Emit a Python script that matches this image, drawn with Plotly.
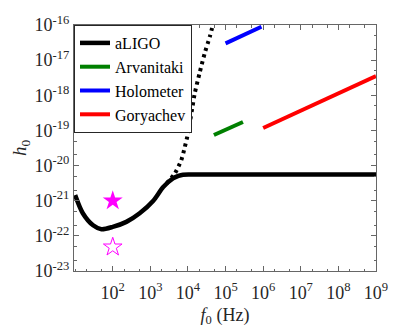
import plotly.graph_objects as go

# --- data ---
aligo_f = [10, 16, 30, 50, 100, 230, 520, 1200, 2200, 4000, 5600, 7400, 11000, 20000, 1e9]
aligo_h = [1.45e-21, 4.4e-22, 2.0e-22, 1.55e-22, 1.8e-22, 2.5e-22, 4.4e-22, 1.0e-21,
           2.45e-21, 4.3e-21, 5.1e-21, 5.5e-21, 5.6e-21, 5.6e-21, 5.6e-21]

aligo_dot_f = [2700, 4500, 6600, 8100, 10000, 11500, 13200, 15100, 20400, 28000, 38000, 46000]
aligo_dot_h = [3.1e-21, 6.0e-21, 1.4e-20, 3.1e-20, 8.1e-20, 1.95e-19, 4.7e-19, 1.12e-18,
               4.3e-18, 1.6e-17, 4.6e-17, 1.0e-16]

arv_f = [4.9e4, 2.9e5]
arv_h = [7.4e-20, 1.74e-19]

holo_f = [1.0e5, 9.0e5]
holo_h = [3.0e-17, 8.9e-17]

gory_f = [1.0e6, 1.0e9]
gory_h = [1.17e-19, 3.5e-18]

star_f = [100]
star_filled_h = [1.0e-21]
star_open_h = [4.8e-23]

series_names = ["aLIGO", "Arvanitaki", "Holometer", "Goryachev"]

x_tickvals = [1e2, 1e3, 1e4, 1e5, 1e6, 1e7, 1e8, 1e9]
x_ticktext = ["10<sup>%d</sup>" % e for e in range(2, 10)]
y_tickvals = [1e-23, 1e-22, 1e-21, 1e-20, 1e-19, 1e-18, 1e-17, 1e-16]
y_ticktext = ["10<sup>-%d</sup>" % e for e in range(23, 15, -1)]

SERIF = "Liberation Serif"
FRAME = "#666666"

fig = go.Figure()

fig.add_trace(go.Scatter(x=aligo_f, y=aligo_h, mode="lines", name=series_names[0],
                         line=dict(color="black", width=4.5, shape="spline", smoothing=0.8)))
fig.add_trace(go.Scatter(x=arv_f, y=arv_h, mode="lines", name=series_names[1],
                         line=dict(color="#008000", width=4)))
fig.add_trace(go.Scatter(x=holo_f, y=holo_h, mode="lines", name=series_names[2],
                         line=dict(color="#0000ff", width=4)))
fig.add_trace(go.Scatter(x=gory_f, y=gory_h, mode="lines", name=series_names[3],
                         line=dict(color="#ff0000", width=4)))

# dotted extension, not in legend
fig.add_trace(go.Scatter(x=aligo_dot_f, y=aligo_dot_h, mode="lines", showlegend=False,
                         line=dict(color="black", width=4, dash="3px,4px",
                                   shape="spline", smoothing=0.6)))

# stars
fig.add_trace(go.Scatter(x=star_f, y=star_filled_h, mode="markers", showlegend=False,
                         marker=dict(symbol="star", size=15, color="#ff00ff",
                                     line=dict(width=0))))
fig.add_trace(go.Scatter(x=star_f, y=star_open_h, mode="markers", showlegend=False,
                         marker=dict(symbol="star-open", size=14, color="#ff00ff",
                                     line=dict(width=1, color="#ff00ff"))))

axis_common = dict(
    type="log", showgrid=False, zeroline=False,
    showline=True, linecolor=FRAME, linewidth=1, mirror="ticks",
    ticks="inside", ticklen=5, tickcolor=FRAME,
    minor=dict(ticks="inside", ticklen=2.5, tickcolor=FRAME, showgrid=False),
    tickfont=dict(family=SERIF, size=18, color="#262626"),
)

fig.update_layout(
    width=415, height=332,
    margin=dict(l=74, r=39, t=25, b=61),
    paper_bgcolor="white", plot_bgcolor="white",
    font=dict(family=SERIF, color="#262626"),
    xaxis=dict(axis_common, range=[0.97, 9], tickvals=x_tickvals, ticktext=x_ticktext,
               ticklabelstandoff=5,
               title=dict(text="<i>f</i><sub>0</sub> (Hz)", font=dict(family=SERIF, size=18),
                          standoff=6)),
    yaxis=dict(axis_common, range=[-23, -16], tickvals=y_tickvals, ticktext=y_ticktext,
               title=dict(text="<i>h</i><sub>0</sub>", font=dict(family=SERIF, size=19),
                          standoff=2)),
    legend=dict(x=0, y=1, xanchor="left", yanchor="top",
                bordercolor="#262626", borderwidth=1, bgcolor="white",
                font=dict(family=SERIF, size=16, color="black"),
                tracegroupgap=0, itemwidth=30),
    showlegend=True,
)

fig.write_html("out.html", post_script="document.body.style.margin='0';",
               config={"displayModeBar": False})
